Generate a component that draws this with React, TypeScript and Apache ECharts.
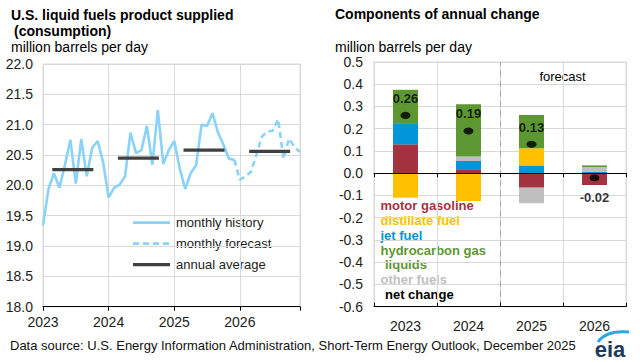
import React, { useEffect, useRef } from "react";
import * as echarts from "echarts";

const years = ["2023", "2024", "2025", "2026"];

// monthly consumption, million barrels per day (Jan 2023 - Dec 2025)
const monthlyHistory = [
  19.34, 19.94, 20.2, 19.96, 20.33, 20.75, 20.03, 20.76, 20.15, 20.62, 20.73, 20.38,
  19.8, 19.96, 20.01, 20.15, 20.87, 20.53, 20.58, 20.98, 20.34, 21.24, 20.35, 20.58,
  20.73, 20.28, 19.94, 20.2, 20.33, 21.0, 20.98, 21.19, 20.87, 20.67, 20.44, 20.42,
];
// forecast months (Jan 2026 - Dec 2026)
const monthlyForecast = [20.09, 20.15, 20.22, 20.49, 20.8, 20.89, 20.9, 21.09, 20.44, 20.77, 20.63, 20.55];
const annualAverage = [20.26, 20.45, 20.58, 20.56];

// components of annual change, million barrels per day
const motorGasoline = [0.13, 0.018, -0.065, -0.053];
const jetFuel = [0.095, 0.037, 0.035, 0.006];
const distillateFuel = [-0.11, -0.125, 0.077, 0];
const otherFuels = [0, 0.02, -0.07, 0.022];
const hydrocarbonGasLiquids = [0.15, 0.235, 0.15, 0.007];
const netChange = [0.26, 0.19, 0.13, -0.02];

const FONT = "'Liberation Sans', Arial, Helvetica, sans-serif";
const LINE_BLUE = "#88d3f7";
const AVG_GRAY = "#404040";
const C_RED = "#a33340";
const C_YELLOW = "#ffc000";
const C_BLUE = "#0096d7";
const C_GREEN = "#5d9732";
const C_GRAY = "#bfbfbf";
const GRID_C = "#d9d9d9";

function fmt1(v: number) {
  if (Math.abs(v) < 1e-9) return "0.0";
  return v.toFixed(1);
}

export default function App() {
  const ref = useRef<HTMLDivElement>(null);

  useEffect(() => {
    document.body.style.margin = "0";
    if (!ref.current) return;
    const chart = echarts.init(ref.current, undefined, { renderer: "svg" });

    const historyData = monthlyHistory.map((v, i) => [i, v]);
    const lastH = monthlyHistory.length - 1;
    const forecastData = [[lastH, monthlyHistory[lastH]]].concat(
      monthlyForecast.map((v, i) => [lastH + 1 + i, v])
    );

    const avgSeries = annualAverage.map((v, i) => ({
      type: "line",
      xAxisIndex: 0,
      yAxisIndex: 0,
      symbol: "none",
      silent: true,
      lineStyle: { color: AVG_GRAY, width: 3.2 },
      data: [
        [i * 12 + 1.7, v],
        [i * 12 + 9.2, v],
      ],
      z: 4,
    }));

    const barBase = {
      type: "bar",
      xAxisIndex: 1,
      yAxisIndex: 1,
      stack: "components",
      barWidth: 25,
      z: 2,
    };

    const text = (x: number, y: number, t: string, opts: any = {}) => ({
      type: "text",
      x,
      y,
      silent: true,
      style: {
        text: t,
        fill: opts.fill || "#000",
        fontSize: opts.fontSize || 14,
        fontWeight: opts.fontWeight || "normal",
        fontFamily: FONT,
        align: opts.align || "left",
        verticalAlign: "middle",
      },
    });

    const option: any = {
      animation: false,
      textStyle: { fontFamily: FONT },
      grid: [
        { left: 43, top: 64, width: 257, height: 242.7, show: true, borderColor: GRID_C, borderWidth: 1 },
        { left: 374, top: 62, width: 252, height: 244.7, show: true, borderColor: GRID_C, borderWidth: 1 },
      ],
      xAxis: [
        {
          type: "value",
          gridIndex: 0,
          min: 0,
          max: 47,
          interval: 12,
          axisLine: { show: true, onZero: false, lineStyle: { color: "#000" } },
          axisTick: { show: true, length: 4, lineStyle: { color: "#000" } },
          axisLabel: {
            fontSize: 14,
            color: "#222",
            margin: 8,
            formatter: (v: number) => (v % 12 === 0 ? years[v / 12] : ""),
          },
          splitLine: { show: true, lineStyle: { color: GRID_C } },
        },
        {
          type: "category",
          gridIndex: 1,
          data: years,
          position: "bottom",
          axisLine: { show: false, onZero: false },
          axisTick: { show: false },
          axisLabel: { fontSize: 14, color: "#222", margin: 12 },
          splitLine: { show: true, lineStyle: { color: GRID_C } },
        },
        {
          type: "category",
          gridIndex: 1,
          data: years,
          position: "bottom",
          z: 6,
          axisLine: { show: true, onZero: true, lineStyle: { color: "#000" } },
          axisTick: { show: true, length: 4, lineStyle: { color: "#000" } },
          axisLabel: { show: false },
          splitLine: { show: false },
        },
        {
          type: "category",
          gridIndex: 1,
          data: years,
          position: "bottom",
          z: 6,
          axisLine: { show: true, onZero: true, lineStyle: { color: "#000" } },
          axisTick: { show: true, inside: true, length: 4, lineStyle: { color: "#000" } },
          axisLabel: { show: false },
          splitLine: { show: false },
        },
        {
          type: "value",
          gridIndex: 1,
          min: 0,
          max: 4,
          show: false,
        },
      ],
      yAxis: [
        {
          type: "value",
          gridIndex: 0,
          min: 18,
          max: 22,
          interval: 0.5,
          axisLine: { show: false },
          axisTick: { show: false },
          axisLabel: { fontSize: 14, color: "#222", margin: 10, formatter: fmt1 },
          splitLine: { show: true, lineStyle: { color: GRID_C } },
        },
        {
          type: "value",
          gridIndex: 1,
          min: -0.6,
          max: 0.5,
          interval: 0.1,
          axisLine: { show: false },
          axisTick: { show: false },
          axisLabel: { fontSize: 14, color: "#222", margin: 11, formatter: fmt1 },
          splitLine: { show: true, lineStyle: { color: GRID_C } },
        },
      ],
      series: [
        {
          name: "monthly history",
          type: "line",
          xAxisIndex: 0,
          yAxisIndex: 0,
          symbol: "none",
          lineStyle: { color: LINE_BLUE, width: 2.6 },
          data: historyData,
          z: 3,
        },
        {
          name: "monthly forecast",
          type: "line",
          xAxisIndex: 0,
          yAxisIndex: 0,
          symbol: "none",
          lineStyle: { color: LINE_BLUE, width: 2.6, type: [6, 4] },
          data: forecastData,
          z: 3,
        },
        ...avgSeries,
        { ...barBase, name: "motor gasoline", itemStyle: { color: C_RED }, data: motorGasoline },
        { ...barBase, name: "jet fuel", itemStyle: { color: C_BLUE }, data: jetFuel },
        { ...barBase, name: "distillate fuel", itemStyle: { color: C_YELLOW }, data: distillateFuel },
        { ...barBase, name: "other fuels", itemStyle: { color: C_GRAY }, data: otherFuels },
        { ...barBase, name: "hydrocarbon gas liquids", itemStyle: { color: C_GREEN }, data: hydrocarbonGasLiquids },
        {
          name: "net change",
          type: "scatter",
          xAxisIndex: 1,
          yAxisIndex: 1,
          symbol: "circle",
          symbolSize: [10, 7],
          itemStyle: { color: "#000" },
          z: 8,
          label: {
            show: true,
            position: "top",
            distance: 7,
            fontSize: 13,
            fontWeight: "bold",
            color: "#000",
            fontFamily: FONT,
            formatter: (p: any) => Number(p.value).toFixed(2),
          },
          data: netChange.map((v) =>
            v < 0 ? { value: v, label: { position: "bottom", distance: 10 } } : { value: v }
          ),
        },
        {
          name: "forecast divider",
          type: "line",
          xAxisIndex: 4,
          yAxisIndex: 1,
          data: [],
          silent: true,
          markLine: {
            silent: true,
            symbol: "none",
            label: { show: false },
            lineStyle: { color: "#a6a6a6", type: [6, 4], width: 1 },
            data: [{ xAxis: 2 }],
          },
        },
      ],
      graphic: [
        text(11, 15, "U.S. liquid fuels product supplied", { fontWeight: "bold" }),
        text(14, 31, "(consumption)", { fontWeight: "bold" }),
        text(11, 47, "million barrels per day"),
        text(335, 14, "Components of annual change", { fontWeight: "bold" }),
        text(335, 47, "million barrels per day"),
        text(562.5, 76, "forecast", { fontSize: 13, align: "center" }),
        // left legend
        { type: "line", silent: true, shape: { x1: 133, y1: 222.7, x2: 170, y2: 222.7 }, style: { stroke: LINE_BLUE, lineWidth: 2.8 } },
        { type: "line", silent: true, shape: { x1: 133, y1: 243.7, x2: 170, y2: 243.7 }, style: { stroke: LINE_BLUE, lineWidth: 2.8, lineDash: [6, 4] } },
        { type: "line", silent: true, shape: { x1: 133, y1: 264.7, x2: 170, y2: 264.7 }, style: { stroke: AVG_GRAY, lineWidth: 3.2 } },
        text(176, 222.7, "monthly history", { fontSize: 13, fill: "#222" }),
        text(176, 243.7, "monthly forecast", { fontSize: 13, fill: "#222" }),
        text(176, 264.7, "annual average", { fontSize: 13, fill: "#222" }),
        // right legend
        text(380.5, 205, "motor gasoline", { fontSize: 13, fontWeight: "bold", fill: C_RED }),
        text(380.5, 220.5, "distillate fuel", { fontSize: 13, fontWeight: "bold", fill: C_YELLOW }),
        text(380.5, 235, "jet fuel", { fontSize: 13, fontWeight: "bold", fill: C_BLUE }),
        text(380.5, 250, "hydrocarbon gas", { fontSize: 13, fontWeight: "bold", fill: C_GREEN }),
        text(385, 264.5, "liquids", { fontSize: 13, fontWeight: "bold", fill: C_GREEN }),
        text(380.5, 279.5, "other fuels", { fontSize: 13, fontWeight: "bold", fill: C_GRAY }),
        text(385, 294.5, "net change", { fontSize: 13, fontWeight: "bold", fill: "#000" }),
        // source
        text(10, 345, "Data source: U.S. Energy Information Administration, Short-Term Energy Outlook, December 2025", {
          fontSize: 13,
          fill: "#111",
        }),
        // eia logo
        {
          type: "bezierCurve",
          silent: true,
          shape: { x1: 598, y1: 342, cpx1: 606, cpy1: 330, x2: 629, y2: 332 },
          style: { stroke: "#2ea6de", lineWidth: 3, fill: null },
        },
        text(610, 349, "eia", { fontSize: 22, fontWeight: "bold", fill: "#1d3b5e", align: "center" }),
      ],
    };

    chart.setOption(option);
    return () => {
      chart.dispose();
    };
  }, []);

  return <div ref={ref} style={{ width: 640, height: 362 }} />;
}
